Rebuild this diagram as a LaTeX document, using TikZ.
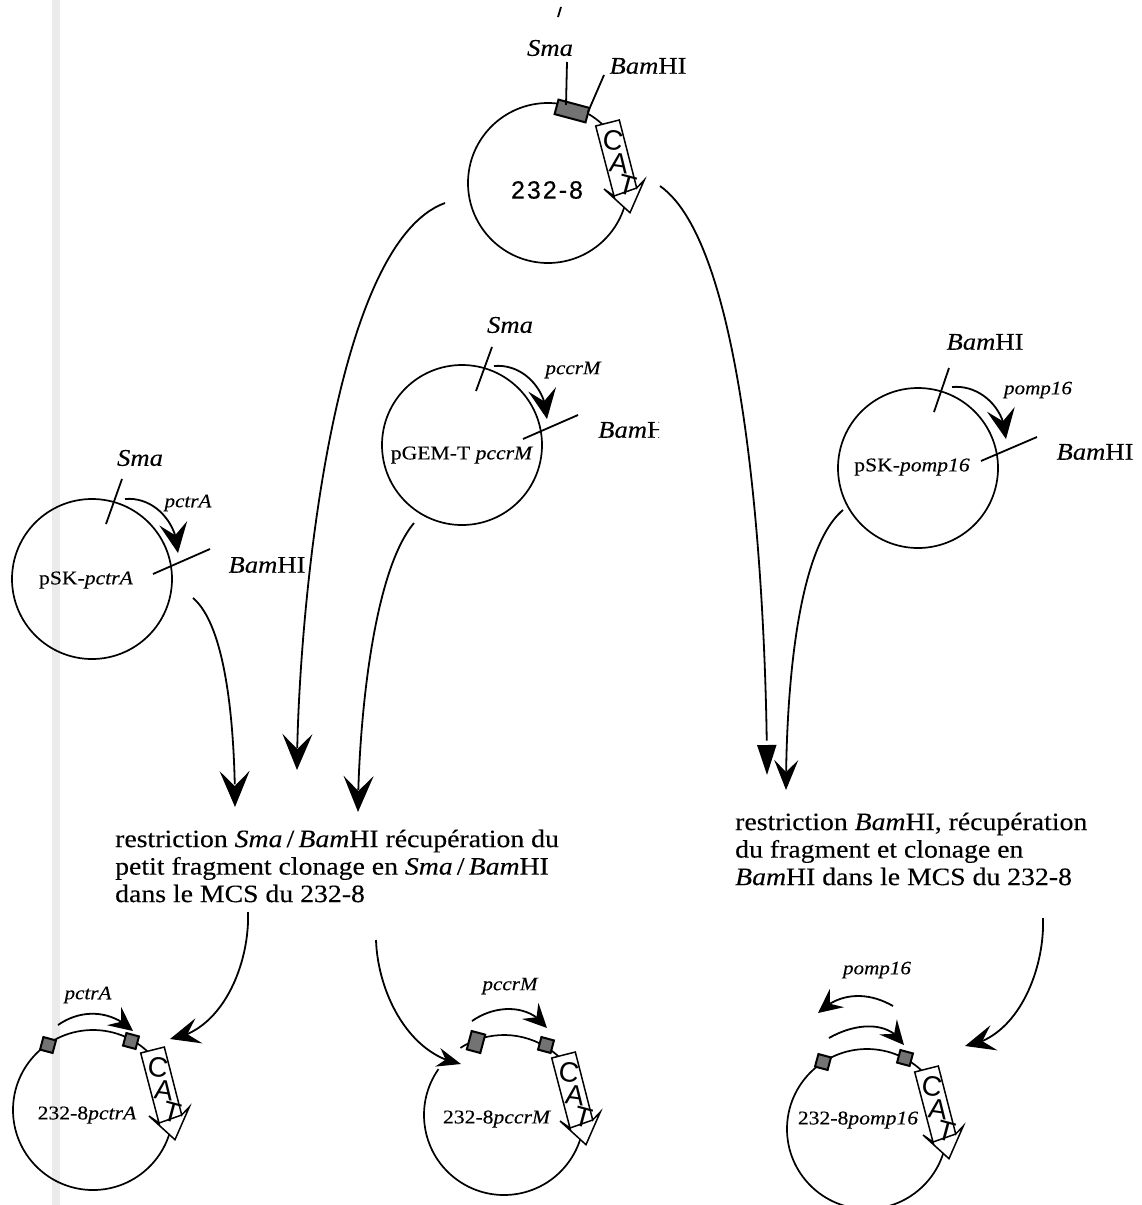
\documentclass[tikz,border=0pt]{standalone}
\usepackage{fontspec}
\usepackage{tikz}
\usetikzlibrary{arrows.meta, bending, positioning}
\setmainfont[FakeStretch=1.11, FakeBold=0.2]{Liberation Serif}
\newfontfamily\catfont{Liberation Sans}
\newfontfamily\widefont[LetterSpace=8, FakeBold=0.4]{Liberation Sans}

\tikzset{
  ring/.style = {circle, draw, line width=1.7pt, minimum size=160pt, inner sep=0pt},
  tick/.style = {line width=1.8pt},
  site/.style = {font=\fontsize{24}{27.5}\selectfont, inner sep=0pt},
  gene/.style = {font=\fontsize{19}{20}\selectfont\itshape, inner sep=0pt},
  inlabel/.style = {font=\fontsize{19.5}{20}\selectfont, inner sep=0pt},
  note/.style = {font=\fontsize{25}{27.5}\selectfont, align=left, anchor=west, inner sep=0pt},
  hatch/.style = {draw, line width=2pt, fill=black!55},
  long/.style = {-{Stealth[length=36pt, width=30pt, inset=15pt, flex]}, line width=1.8pt},
  narrow/.style = {-{Stealth[length=30pt, width=24pt, inset=12pt, flex]}, line width=1.8pt},
  solid tip/.style = {-{Stealth[length=30pt, width=19pt, inset=0pt, flex]}, line width=1.8pt},
  side/.style = {-{Stealth[length=30pt, width=26pt, inset=12pt, flex]}, line width=1.8pt},
  tiny head/.style = {-{Stealth[length=24pt, width=19pt, inset=8pt, flex]}, line width=1.8pt},
  short/.style = {-{Stealth[length=30pt, width=28pt, inset=12pt, flex]}, line width=1.8pt},
  small/.style = {-{Stealth[length=24pt, width=23pt, inset=9pt, flex]}, line width=1.8pt},
  catbox/.pic = {
    \draw[line width=1.5pt, fill=white] (47.7,-57) -- (71.3,-63) -- (88.7,5) -- (96.3,-3)
      -- (82,29.7) -- (56,6) -- (66,13) -- cycle;
    \draw[line width=1.5pt] (66,13) -- (88.7,5);
    \node[rotate=-8, font=\catfont\fontsize{28}{28}\selectfont, inner sep=0pt] (-c) at (65,-43) {C};
    \node[rotate=-8, font=\catfont\fontsize{28}{28}\selectfont, inner sep=0pt] (-a) at (71,-20) {A};
    \node[rotate=-15, font=\catfont\fontsize{28}{28}\selectfont, inner sep=0pt] (-t) at (79,2) {T};
  }
}

\begin{document}
\begin{tikzpicture}[x=1pt, y=-1pt, auto]
\useasboundingbox (0,0) rectangle (1141,1205);
\fill[black!8] (52,0) rectangle (60,1205);

\node[ring] (top) at (548,183) {};
\node[ring] (gem) at (462,445) {};
\node[ring] (ctr) at (92,579) {};
\node[ring] (omp) at (918,468) {};
\node[ring] (ctrb) at (93,1110) {};
\node[ring, draw=none] (ccrb) at (504,1115) {};
\node[ring] (ompb) at (867,1129) {};
\draw[line width=1.7pt] (ccrb) ++(145:80pt) arc[start angle=145, delta angle=338, radius=80pt];

\pic (cattop) at (top.center) {catbox};
\pic (catctr) at (ctrb.center) {catbox};
\pic (catccr) at (ccrb.center) {catbox};
\pic (catomp) at (ompb.center) {catbox};

\node[font=\widefont\fontsize{25}{25}\selectfont, inner sep=0pt] (toplab) at (547,190) {232-8};
\node[inlabel] (gemlab) at (462,455) {pGEM-T \textit{pccrM}};
\node[inlabel] (ctrlab) at (86,580) {pSK-\textit{pctrA}};
\node[inlabel] (omplab) at (912,467) {pSK-\textit{pomp16}};
\node[inlabel] (ctrblab) at (87,1115) {232-8\textit{pctrA}};
\node[inlabel] (ccrblab) at (497,1119) {232-8\textit{pccrM}};
\node[inlabel] (ompblab) at (858,1120) {232-8\textit{pomp16}};

\node[hatch, minimum width=32pt, minimum height=15pt, inner sep=0pt, rotate=-15] (boxtop) at (572,111) {};
\node[hatch, minimum size=13pt, inner sep=0pt, rotate=-15] (boxa) at (48,1045) {};
\node[hatch, minimum size=13pt, inner sep=0pt, rotate=-15] (boxb) at (131,1041) {};
\node[hatch, minimum width=14pt, minimum height=19pt, inner sep=0pt, rotate=-15] (boxc) at (476,1042) {};
\node[hatch, minimum size=13pt, inner sep=0pt, rotate=-15] (boxd) at (546,1045) {};
\node[hatch, minimum size=13pt, inner sep=0pt, rotate=-15] (boxe) at (823,1062) {};
\node[hatch, minimum size=13pt, inner sep=0pt, rotate=-15] (boxf) at (905,1058) {};

\node[site] (smatop) at (550,48) {\textit{Sma}};
\node[site] (bamtop) at (648,66) {\textit{Bam}HI};
\node[site] (smagem) at (510,325) {\textit{Sma}};
\begin{scope}
\clip (590,400) rectangle (659,460);
\node[site, anchor=west] (bamgem) at (598,430) {\textit{Bam}HI};
\end{scope}
\node[site] (smactr) at (140,458) {\textit{Sma}};
\node[site] (bamctr) at (267,565) {\textit{Bam}HI};
\node[site] (bamompa) at (985,342) {\textit{Bam}HI};
\node[site] (bamompb) at (1095,452) {\textit{Bam}HI};
\node[gene] (pccr) at (573,370) {pccrM};
\node[gene] (pctr) at (188,503) {pctrA};
\node[gene] (pomp) at (1038,390) {pomp16};
\node[gene] (pctrb) at (88,995) {pctrA};
\node[gene] (pccrb) at (510,986) {pccrM};
\node[gene] (pompb) at (877,970) {pomp16};

\node[note] (left) at (115,866) {restriction \textit{Sma}\,/\,\textit{Bam}HI récupération du\\petit fragment clonage en \textit{Sma}\,/\,\textit{Bam}HI\\dans le MCS du 232-8};
\node[note] (right) at (735,849) {restriction \textit{Bam}HI, récupération\\du fragment et clonage en\\\textit{Bam}HI dans le MCS du 232-8};

\coordinate (t1) at (567,62);
\coordinate (t2) at (566,105);
\coordinate (t3) at (604,75);
\coordinate (t4) at (588,112);
\coordinate (t5) at (492,347);
\coordinate (t6) at (476,391);
\coordinate (t7) at (578,415);
\coordinate (t8) at (523,439);
\coordinate (t9) at (122,479);
\coordinate (t10) at (106,524);
\coordinate (t11) at (210,549);
\coordinate (t12) at (153,574);
\coordinate (t13) at (949,368);
\coordinate (t14) at (934,412);
\coordinate (t15) at (1037,437);
\coordinate (t16) at (981,461);
\draw[tick] (t1) -- (t2);
\draw[tick] (t3) -- (t4);
\draw[tick] (t5) -- (t6);
\draw[tick] (t7) -- (t8);
\draw[tick] (t9) -- (t10);
\draw[tick] (t11) -- (t12);
\draw[tick] (t13) -- (t14);
\draw[tick] (t15) -- (t16);

\coordinate (a1) at (445,203);
\coordinate (a2) at (297,770);
\coordinate (b1) at (660,186);
\coordinate (b2) at (767,775);
\coordinate (c1) at (414,523);
\coordinate (c2) at (358,812);
\coordinate (d1) at (193,598);
\coordinate (d2) at (235,807);
\coordinate (e1) at (843,510);
\coordinate (e2) at (786,790);
\coordinate (f1) at (248,912);
\coordinate (f2) at (170,1039);
\coordinate (g1) at (376,940);
\coordinate (g2) at (461,1064);
\coordinate (h1) at (1043,918);
\coordinate (h2) at (965,1046);
\path (a1) edge [long, out=200, in=90, looseness=.55] (a2);
\path (b1) edge [solid tip, out=-35, in=90, looseness=.5] (b2);
\path (c1) edge [long, out=230, in=90, looseness=.6] (c2);
\path (d1) edge [long, out=-40, in=90, looseness=.6] (d2);
\path (e1) edge [narrow, out=220, in=90, looseness=.6] (e2);
\path (f1) edge [side, out=-88, in=8, looseness=.9] (f2);
\path (g1) edge [tiny head, out=-88, in=170, looseness=.9] (g2);
\path (h1) edge [side, out=-88, in=8, looseness=.9] (h2);

\coordinate (s1) at (125,499);
\coordinate (s2) at (178,553);
\coordinate (s3) at (494,366);
\coordinate (s4) at (547,419);
\coordinate (s5) at (952,387);
\coordinate (s6) at (1006,439);
\coordinate (s7) at (58,1025);
\coordinate (s8) at (133,1031);
\coordinate (s9) at (472,1021);
\coordinate (s10) at (547,1028);
\coordinate (s11) at (829,1038);
\coordinate (s12) at (904,1045);
\coordinate (s13) at (893,1006);
\coordinate (s14) at (818,1013);
\path (s1) edge [short, out=5, in=90, looseness=1] (s2);
\path (s3) edge [short, out=5, in=90, looseness=1] (s4);
\path (s5) edge [short, out=5, in=90, looseness=1] (s6);
\path (s7) edge [small, out=35, in=135, looseness=1] (s8);
\path (s9) edge [small, out=35, in=125, looseness=1] (s10);
\path (s11) edge [small, out=30, in=120, looseness=1] (s12);
\path (s13) edge [small, out=150, in=45, looseness=1] (s14);

\coordinate (mark1) at (561,7);
\coordinate (mark2) at (558,17);
\draw[tick] (mark1) -- (mark2);
\end{tikzpicture}
\end{document}
